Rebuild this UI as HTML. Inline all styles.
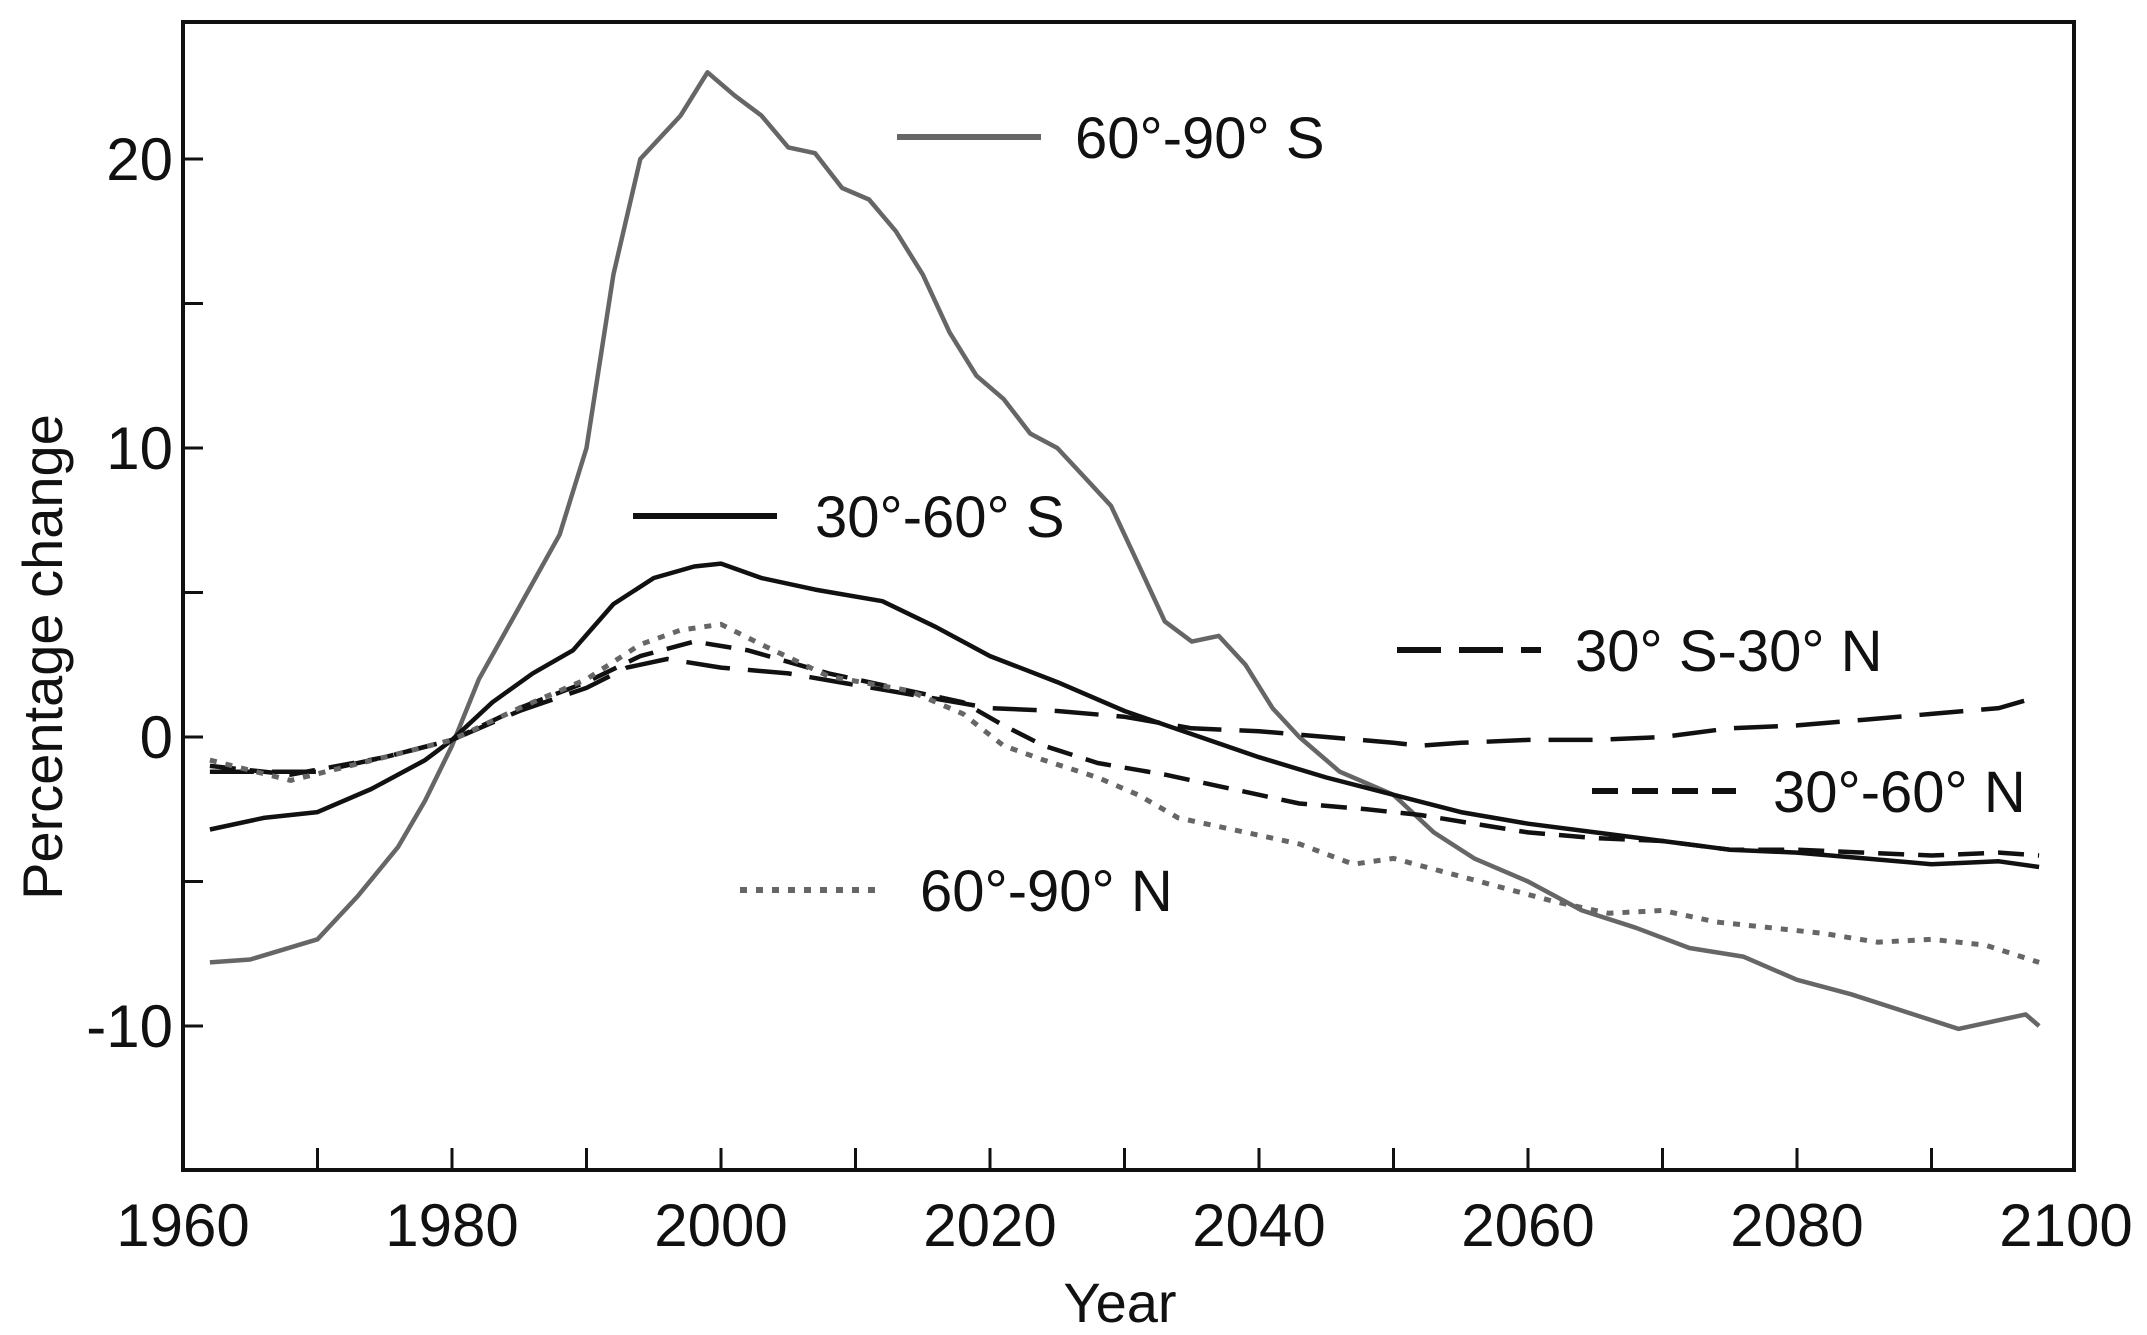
<!DOCTYPE html>
<html><head><meta charset="utf-8"><style>
html,body{margin:0;padding:0;background:#fff;}
svg{display:block;font-family:"Liberation Sans",sans-serif;}
</style></head><body>
<svg id="chart" width="2147" height="1335" viewBox="0 0 2147 1335">
<g id="axes"></g>
<g id="series"></g>
<g id="legend"></g>
</svg>
<script>
const xTicks=[1960,1980,2000,2020,2040,2060,2080,2100];
const yTicks=[-10,0,10,20];
const s6090S_x=[1962,1965,1970,1973,1976,1978,1980,1982,1985,1988,1990,1992,1994,1997,1999,2001,2003,2005,2007,2009,2011,2013,2015,2017,2019,2021,2023,2025,2027,2029,2031,2033,2035,2037,2039,2041,2043,2046,2050,2053,2056,2060,2064,2068,2072,2076,2080,2084,2088,2092,2095,2097,2098];
const s6090S_y=[-7.8,-7.7,-7.0,-5.5,-3.8,-2.2,-0.3,2,4.5,7,10,16,20,21.5,23,22.2,21.5,20.4,20.2,19,18.6,17.5,16,14,12.5,11.7,10.5,10,9,8,6,4,3.3,3.5,2.5,1,0,-1.2,-2.0,-3.3,-4.2,-5.0,-6.0,-6.6,-7.3,-7.6,-8.4,-8.9,-9.5,-10.1,-9.8,-9.6,-10.0];
const s3060S_x=[1962,1966,1970,1974,1978,1980,1983,1986,1989,1992,1995,1998,2000,2003,2007,2012,2016,2020,2025,2030,2035,2040,2045,2050,2055,2060,2065,2070,2075,2080,2085,2090,2095,2098];
const s3060S_y=[-3.2,-2.8,-2.6,-1.8,-0.8,-0.1,1.2,2.2,3,4.6,5.5,5.9,6.0,5.5,5.1,4.7,3.8,2.8,1.9,0.9,0.1,-0.7,-1.4,-2.0,-2.6,-3.0,-3.3,-3.6,-3.9,-4.0,-4.2,-4.4,-4.3,-4.5];
const sTrop_x=[1962,1970,1975,1980,1985,1990,1993,1996,2000,2005,2010,2015,2020,2025,2030,2035,2040,2045,2050,2052,2055,2060,2065,2070,2075,2080,2085,2090,2095,2098];
const sTrop_y=[-1.2,-1.2,-0.7,-0.1,0.9,1.7,2.4,2.7,2.4,2.2,1.8,1.4,1.0,0.9,0.7,0.3,0.2,0.0,-0.2,-0.3,-0.2,-0.1,-0.1,0.0,0.3,0.4,0.6,0.8,1.0,1.4];
const s3060N_x=[1962,1968,1975,1980,1985,1990,1994,1998,2002,2008,2014,2018,2021,2024,2028,2033,2038,2043,2048,2052,2056,2060,2065,2070,2075,2080,2085,2090,2095,2098];
const s3060N_y=[-1.0,-1.3,-0.7,-0.1,1.0,1.9,2.8,3.3,3.0,2.2,1.6,1.2,0.4,-0.3,-0.9,-1.3,-1.8,-2.3,-2.5,-2.7,-3.0,-3.3,-3.5,-3.6,-3.9,-3.9,-4.0,-4.1,-4.0,-4.1];
const s6090N_x=[1962,1968,1975,1980,1985,1990,1994,1997,2000,2003,2008,2014,2018,2021,2024,2028,2031,2034,2038,2043,2047,2050,2054,2058,2062,2066,2070,2074,2078,2082,2086,2090,2094,2098];
const s6090N_y=[-0.8,-1.5,-0.7,-0.1,1.0,2.0,3.2,3.7,3.9,3.2,2.1,1.6,0.8,-0.3,-0.8,-1.4,-2.0,-2.8,-3.2,-3.7,-4.4,-4.2,-4.7,-5.2,-5.7,-6.1,-6.0,-6.4,-6.6,-6.8,-7.1,-7.0,-7.2,-7.8];

const NS='http://www.w3.org/2000/svg';
const L=183,R=2074,T=22,B=1170;
function X(v){return 183+(v-1960)*(2066-183)/140;}
function Y(v){return 737-v*28.9;}
function mk(tag,attrs,parent){const e=document.createElementNS(NS,tag);for(const k in attrs)e.setAttribute(k,attrs[k]);parent.appendChild(e);return e;}
const axes=document.getElementById('axes'),ser=document.getElementById('series'),leg=document.getElementById('legend');
const frame=mk('rect',{x:L,y:T,width:R-L,height:B-T,fill:'none',stroke:'#111','stroke-width':4},axes);


for(let yr=1970;yr<2100;yr+=10){const t=mk('line',{x1:X(yr),x2:X(yr),y1:B,y2:B-22,stroke:'#111','stroke-width':3},axes);

}
for(let v=-10;v<=20;v+=5){const t=mk('line',{x1:L,x2:L+20,y1:Y(v),y2:Y(v),stroke:'#111','stroke-width':3},axes);

}
xTicks.forEach(v=>{const t=mk('text',{x:X(v),y:1246,'text-anchor':'middle','font-size':60,fill:'#111'},axes);t.textContent=v;

});
yTicks.forEach(v=>{const t=mk('text',{x:L-10,y:Y(v)+21,'text-anchor':'end','font-size':60,fill:'#111'},axes);t.textContent=v;

});
const xt=mk('text',{x:1120,y:1322,'text-anchor':'middle','font-size':56,fill:'#111'},axes);xt.textContent='Year';


const yt=mk('text',{x:0,y:0,'text-anchor':'middle','font-size':56,fill:'#111',transform:'translate(62,657) rotate(-90)'},axes);yt.textContent='Percentage change';



const styles=[
 {name:'series-60-90-s',xs:s6090S_x,ys:s6090S_y,c:'#666',d:'',lab:'60°-90° S',lx:897,ly:137,tx:1075},
 {name:'series-30-60-s',xs:s3060S_x,ys:s3060S_y,c:'#111',d:'',lab:'30°-60° S',lx:633,ly:516,tx:815},
 {name:'series-30s-30n',xs:sTrop_x,ys:sTrop_y,c:'#111',d:'44 18',lab:'30° S-30° N',lx:1397,ly:650,tx:1575},
 {name:'series-30-60-n',xs:s3060N_x,ys:s3060N_y,c:'#111',d:'26 14',lab:'30°-60° N',lx:1592,ly:791,tx:1773},
 {name:'series-60-90-n',xs:s6090N_x,ys:s6090N_y,c:'#666',d:'7 9',lab:'60°-90° N',lx:740,ly:890,tx:920}
];
styles.forEach(s=>{
 const pts=s.xs.map((x,i)=>X(x).toFixed(1)+','+Y(s.ys[i]).toFixed(1)).join(' ');
 const p=mk('polyline',{points:pts,fill:'none',stroke:s.c,'stroke-width':s.d==='7 9'?5:4.5,'stroke-dasharray':s.d,'stroke-linejoin':'round'},ser);
 
 
 const g=mk('g',{},leg);
 
 
 mk('line',{x1:s.lx,x2:s.lx+144,y1:s.ly,y2:s.ly,stroke:s.c,'stroke-width':6,'stroke-dasharray':s.d},g);
 const t=mk('text',{x:s.tx,y:s.ly+21,'font-size':58,fill:'#111'},g);t.textContent=s.lab;
});
</script>
</body></html>
